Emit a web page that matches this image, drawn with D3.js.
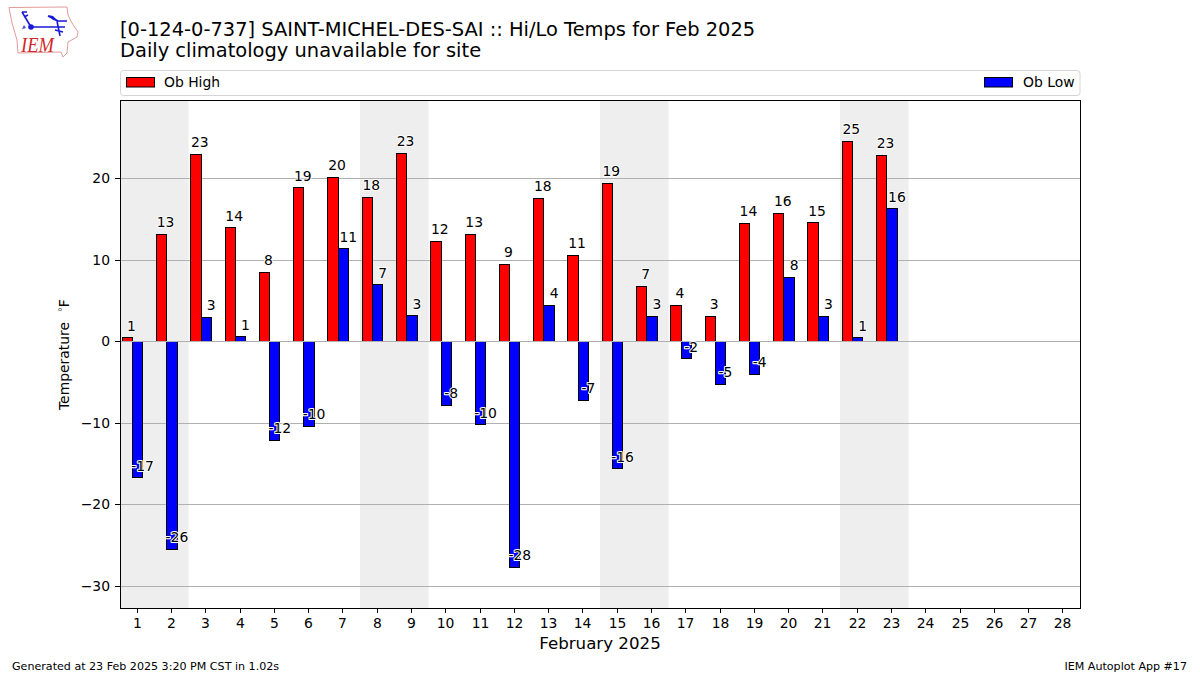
<!DOCTYPE html>
<html><head><meta charset="utf-8">
<style>html,body{margin:0;padding:0;background:#fff}svg{display:block}text{font-family:"DejaVu Sans";fill:#000}</style>
<script src="https://cdn.jsdelivr.net/npm/d3@7"></script></head>
<body><svg id="c" width="1200" height="675"></svg>
<script>
const days = d3.range(1, 29);
const obDays = d3.range(1, 24);
const highs = [0.5,13.2,23,14,8.5,18.9,20.2,17.7,23.1,12.3,13.2,9.5,17.6,10.6,19.4,6.8,4.5,3.1,14.5,15.8,14.6,24.6,22.9];
const lows = [-16.7,-25.5,3,0.6,-12.1,-10.4,11.4,7,3.2,-7.8,-10.2,-27.7,4.5,-7.2,-15.6,3.1,-2.1,-5.2,-4,7.9,3.1,0.5,16.3];
const highLabels = [1,13,23,14,8,19,20,18,23,12,13,9,18,11,19,7,4,3,14,16,15,25,23];
const lowLabels = [-17,-26,3,1,-12,-10,11,7,3,-8,-10,-28,4,-7,-16,3,-2,-5,-4,8,3,1,16];
const weekends = [[0.5,2.5],[7.5,9.5],[14.5,16.5],[21.5,23.5]];
const yTicks = [-30,-20,-10,0,10,20];
const titleLines = ["[0-124-0-737] SAINT-MICHEL-DES-SAI :: Hi/Lo Temps for Feb 2025","Daily climatology unavailable for site"];

const svg = d3.select("#c");
const L=120,R=1080,T=100,B=608;
const x = d3.scaleLinear().domain([0.5,28.5]).range([L,R]);
const y = d3.scaleLinear().domain([-32.72,29.607]).range([B+0.5,T+0.5]);
const snapX = v => Math.round(v)+0.5;
const snapY = v => Math.floor(v)+0.5;

// weekend bands
svg.append("g").selectAll("rect").data(weekends).join("rect")
  .attr("x",d=>x(d[0])).attr("width",d=>x(d[1])-x(d[0]))
  .attr("y",T).attr("height",B-T).attr("fill","#eeeeee");

// grid
svg.append("g").selectAll("line").data(yTicks).join("line")
  .attr("x1",L).attr("x2",R)
  .attr("y1",d=>snapY(y(d))).attr("y2",d=>snapY(y(d)))
  .attr("stroke","#b0b0b0").attr("stroke-width",1);

// bars
function bars(vals,off,color){
  svg.append("g").selectAll("rect").data(vals).join("rect")
    .attr("x",(d,i)=>snapX(x(obDays[i]+off)))
    .attr("width",(d,i)=>snapX(x(obDays[i]+off+0.3))-snapX(x(obDays[i]+off)))
    .attr("y",d=>snapY(Math.min(y(d),y(0))))
    .attr("height",d=>snapY(Math.max(y(d),y(0)))-snapY(Math.min(y(d),y(0))))
    .attr("fill",color).attr("stroke","#000").attr("stroke-width",1);
}
bars(highs,-0.45,"#ff0000");
bars(lows,-0.15,"#0000ff");

// zero line over the bars
svg.append("line").attr("x1",L).attr("x2",R)
  .attr("y1",snapY(y(0))).attr("y2",snapY(y(0)))
  .attr("stroke","#b0b0b0").attr("stroke-width",1);

// bar labels
function labels(vals,text,off){
  const g = svg.append("g").attr("font-size","13.9px").attr("text-anchor","middle");
  g.selectAll("text").data(vals).join("text")
    .attr("x",(d,i)=>x(obDays[i]+off))
    .attr("y",d=>y(d)-7.2)
    .text((d,i)=>text[i])
    .attr("stroke","#fff").attr("stroke-width",2).attr("paint-order","stroke")
    .attr("stroke-linejoin","round");
}
labels(highs,highLabels,-0.17);
labels(lows,lowLabels,0.16);

// axes
const gx = svg.append("g").attr("transform",`translate(0,${B})`)
  .call(d3.axisBottom(x).tickValues(days).tickFormat(d3.format("d")).tickSize(5).tickPadding(5.6));
const gy = svg.append("g").attr("transform",`translate(${L},0)`)
  .call(d3.axisLeft(y).tickValues(yTicks).tickFormat(d=>d<0?"\u2212"+(-d):d).tickSize(5).tickPadding(5));
[gx,gy].forEach(g=>{
  g.select(".domain").remove();
  g.attr("font-family","DejaVu Sans").attr("font-size","13.9px");
  g.selectAll("line").attr("stroke","#000").attr("stroke-width",1);
  g.selectAll("text").attr("fill","#000");
});
gy.selectAll(".tick").attr("transform",d=>`translate(0,${snapY(y(d))})`);
gy.selectAll(".tick line").attr("y1",0).attr("y2",0);
gx.selectAll(".tick").attr("transform",d=>`translate(${Math.round(x(d)-0.5)+0.5},0)`);
svg.append("rect").attr("x",L+0.5).attr("y",T+0.5).attr("width",R-L).attr("height",B-T)
  .attr("fill","none").attr("stroke","#000").attr("stroke-width",1);

// text
svg.append("g").selectAll("text").data(titleLines).join("text")
  .attr("x",120).attr("y",(d,i)=>35.5+i*21.6).attr("font-size","19.44px").text(d=>d);
svg.append("text").attr("x",(L+R)/2).attr("y",649).attr("text-anchor","middle").attr("font-size","16.67px").text("February 2025");
const yl = svg.append("text").attr("transform","translate(68.5,410) rotate(-90)").attr("font-size","13.9px");
yl.append("tspan").text("Temperature");
yl.append("tspan").attr("dx",10).attr("dy",-3).attr("font-size","9.7px").attr("style","fill:#555").text("\u00b0");
yl.append("tspan").attr("dx",0).attr("dy",3).text("F");
svg.append("text").attr("x",12).attr("y",670).attr("font-size","11.1px").text("Generated at 23 Feb 2025 3:20 PM CST in 1.02s");
svg.append("text").attr("x",1187).attr("y",670).attr("text-anchor","end").attr("font-size","11.1px").text("IEM Autoplot App #17");

// legend
svg.append("rect").attr("x",120.5).attr("y",70.5).attr("width",959.5).attr("height",25).attr("rx",3)
  .attr("fill","#fff").attr("stroke","#d5d5d5");
const legend = [{label:"Ob High",color:"#ff0000",hx:126.5,tx:164},{label:"Ob Low",color:"#0000ff",hx:984.5,tx:1023}];
legend.forEach(d=>{
  svg.append("rect").attr("x",d.hx).attr("y",77.5).attr("width",28).attr("height",9.5)
    .attr("fill",d.color).attr("stroke","#000");
  svg.append("text").attr("x",d.tx).attr("y",86.5).attr("font-size","13.9px").text(d.label);
});

// logo
const logo = svg.append("g");
logo.append("path").attr("d","M9 7.5 L67 7 L68 15 L72 23 L78 32 L77 37 L68 42 L67 53 L63 57 L61 52 L18 53 L17 40 L12 23 Z")
  .attr("fill","none").attr("stroke","#e39a9a").attr("stroke-width",1);
logo.append("text").attr("x",21).attr("y",52).attr("font-size","21px").attr("textLength",33).attr("lengthAdjust","spacingAndGlyphs")
  .attr("style","fill:#d22a2a;font-family:'Liberation Serif';font-style:italic").text("IEM");
logo.append("path").attr("d","M31 27 L65 27 M57 21 L60 36 M55 30 L63 32 M22 12 L31 27 M22 12 L27 12 M24 17 L28 15 M48 16 L58 21 L67 21")
  .attr("fill","none").attr("stroke","#1a1ad6").attr("stroke-width",1.6);
logo.append("path").attr("d","M48 15 L53 16 L58 21 L53 20 Z").attr("fill","#1a1ad6");
logo.append("circle").attr("cx",31).attr("cy",27).attr("r",2.8).attr("fill","#1a1ad6");
logo.append("path").attr("d","M24 25 L26 28 L22 29 Z").attr("fill","#4a4ad6");
</script></body></html>
